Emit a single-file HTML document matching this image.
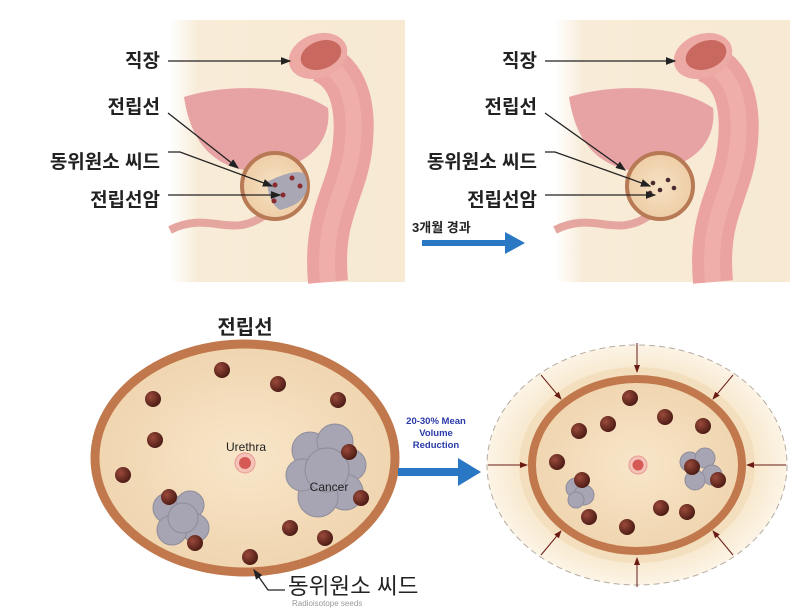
<!DOCTYPE html>
<html><head><meta charset="utf-8"><style>
html,body{margin:0;padding:0;background:#fff;}
svg{display:block;font-family:"Liberation Sans","Noto Sans CJK KR",sans-serif;}
</style></head><body>
<svg width="800" height="612" viewBox="0 0 800 612" xmlns="http://www.w3.org/2000/svg">
<defs>
<linearGradient id="bg" x1="0" x2="1"><stop offset="0" stop-color="#fff"/><stop offset="0.12" stop-color="#f8ecd8"/><stop offset="1" stop-color="#f7e9d2"/></linearGradient>
<linearGradient id="pink" x1="0" x2="1"><stop offset="0" stop-color="#e29a9a"/><stop offset="0.5" stop-color="#f2b2ae"/><stop offset="1" stop-color="#d98a88"/></linearGradient>
<radialGradient id="pro" cx="0.5" cy="0.5" r="0.6"><stop offset="0" stop-color="#f6e2c4"/><stop offset="1" stop-color="#ecc9a0"/></radialGradient>
<radialGradient id="seed" cx="0.35" cy="0.35" r="0.7"><stop offset="0" stop-color="#9a4a3a"/><stop offset="1" stop-color="#4a1a14"/></radialGradient>
<radialGradient id="big" cx="0.5" cy="0.5" r="0.55"><stop offset="0" stop-color="#f8e6c9"/><stop offset="1" stop-color="#efd3ad"/></radialGradient>
<radialGradient id="halo" cx="0.5" cy="0.5" r="0.5"><stop offset="0.7" stop-color="#f6e4c4"/><stop offset="1" stop-color="#fcf4e6"/></radialGradient>
<marker id="ah" markerWidth="8" markerHeight="8" refX="7" refY="4" orient="auto"><path d="M0,1 L8,4 L0,7 Z" fill="#222"/></marker>
<marker id="rh" markerWidth="8" markerHeight="8" refX="7" refY="4" orient="auto"><path d="M0,1 L8,4 L0,7 Z" fill="#6a1a14"/></marker>
<g id="anat">
<rect x="0" y="20" width="235" height="262" fill="url(#bg)"/>
<path d="M0,230 C40,210 60,240 95,215" stroke="#e6a6a0" stroke-width="8" fill="none"/>
<path d="M150,62 C178,72 188,105 182,150 C176,195 152,215 158,282" stroke="#eaa3a0" stroke-width="40" fill="none"/>
<path d="M150,62 C178,72 188,105 182,150 C176,195 152,215 158,282" stroke="#f2b6b0" stroke-width="16" fill="none" opacity="0.6"/>
<ellipse cx="148" cy="56" rx="30" ry="22" fill="#eda9a4" transform="rotate(-20 148 56)"/>
<ellipse cx="151" cy="55" rx="21" ry="14" fill="#c8685f" transform="rotate(-20 151 55)"/>
<path d="M14,97 C50,85 120,82 158,108 C162,140 140,168 90,172 C50,170 22,150 14,97 Z" fill="#e7a3a4"/>
<circle cx="105" cy="186" r="33" fill="url(#pro)" stroke="#b77a55" stroke-width="4"/>
</g>
</defs>

<!-- Top left -->
<use href="#anat" x="170" y="0"/>
<path d="M267,182 C280,175 300,168 305,175 C312,195 300,205 280,210 C272,205 268,195 267,182Z" fill="#a9a7b4"/>
<g fill="#8a2a30"><circle cx="275" cy="185" r="2.5"/><circle cx="292" cy="178" r="2.5"/><circle cx="300" cy="186" r="2.5"/><circle cx="283" cy="195" r="2.5"/><circle cx="274" cy="201" r="2.5"/></g>
<g font-size="19" font-weight="bold" fill="#222" text-anchor="end">
<text x="160" y="67">직장</text><text x="160" y="113">전립선</text><text x="160" y="168">동위원소 씨드</text><text x="160" y="206">전립선암</text></g>
<g stroke="#222" stroke-width="1.3" fill="none" marker-end="url(#ah)">
<line x1="168" y1="61" x2="290" y2="61"/><line x1="168" y1="113" x2="238" y2="168"/><path d="M168,152 L180,152 L272,186"/><line x1="168" y1="195" x2="280" y2="195"/></g>

<!-- Top right -->
<use href="#anat" x="555" y="0"/>
<g fill="#4a2a30"><circle cx="653" cy="183" r="2.3"/><circle cx="668" cy="180" r="2.3"/><circle cx="674" cy="188" r="2.3"/><circle cx="660" cy="190" r="2.3"/><circle cx="650" cy="193" r="2.3"/></g>
<g font-size="19" font-weight="bold" fill="#222" text-anchor="end">
<text x="537" y="67">직장</text><text x="537" y="113">전립선</text><text x="537" y="168">동위원소 씨드</text><text x="537" y="206">전립선암</text></g>
<g stroke="#222" stroke-width="1.3" fill="none" marker-end="url(#ah)">
<line x1="545" y1="61" x2="675" y2="61"/><line x1="545" y1="113" x2="625" y2="170"/><path d="M545,152 L555,152 L650,186"/><line x1="545" y1="195" x2="655" y2="195"/></g>
<text x="412" y="232" font-size="13" font-weight="bold" fill="#222">3개월 경과</text>
<path d="M422,240 L505,240 L505,232 L525,243 L505,254 L505,246 L422,246 Z" fill="#2a77c4"/>

<!-- Bottom left -->
<text x="245" y="334" font-size="20" font-weight="bold" fill="#222" text-anchor="middle">전립선</text>
<ellipse cx="245" cy="458" rx="150" ry="114" fill="url(#big)" stroke="#c0784c" stroke-width="9"/>
<g fill="#a7a5b3" stroke="#8e8c9a" stroke-width="1">
<circle cx="310" cy="450" r="18"/><circle cx="335" cy="442" r="18"/><circle cx="350" cy="465" r="16"/><circle cx="345" cy="492" r="18"/><circle cx="318" cy="497" r="20"/><circle cx="302" cy="475" r="16"/><circle cx="327" cy="470" r="22"/>
<circle cx="168" cy="508" r="15"/><circle cx="190" cy="505" r="14"/><circle cx="195" cy="528" r="14"/><circle cx="172" cy="530" r="15"/><circle cx="183" cy="518" r="15"/></g>
<text x="246" y="451" font-size="12" fill="#222" text-anchor="middle">Urethra</text>
<circle cx="245" cy="463" r="10" fill="#f4c2b8" stroke="#e89a90"/><circle cx="245" cy="463" r="6" fill="#d55a55"/>
<text x="329" y="491" font-size="12" fill="#222" text-anchor="middle">Cancer</text>
<g fill="url(#seed)">
<circle cx="222" cy="370" r="8"/><circle cx="278" cy="384" r="8"/><circle cx="153" cy="399" r="8"/><circle cx="338" cy="400" r="8"/><circle cx="155" cy="440" r="8"/><circle cx="123" cy="475" r="8"/><circle cx="349" cy="452" r="8"/><circle cx="169" cy="497" r="8"/><circle cx="361" cy="498" r="8"/><circle cx="195" cy="543" r="8"/><circle cx="290" cy="528" r="8"/><circle cx="325" cy="538" r="8"/><circle cx="250" cy="557" r="8"/></g>
<path d="M285,590 L268,590 L254,570" stroke="#222" stroke-width="1.3" fill="none" marker-end="url(#ah)"/>
<text x="288" y="594" font-size="22.5" fill="#222">동위원소 씨드</text>
<text x="292" y="606" font-size="8" fill="#999">Radioisotope seeds</text>

<!-- Arrow middle -->
<g font-size="9.5" font-weight="bold" fill="#2a3aa8" text-anchor="middle">
<text x="436" y="424">20-30% Mean</text><text x="436" y="436">Volume</text><text x="436" y="448">Reduction</text></g>
<path d="M398,468 L458,468 L458,458 L481,472 L458,486 L458,476 L398,476 Z" fill="#2a77c4"/>

<!-- Bottom right -->
<ellipse cx="637" cy="465" rx="150" ry="120" fill="url(#halo)" stroke="#b5aca0" stroke-width="1" stroke-dasharray="6,4"/>
<ellipse cx="637" cy="465" rx="118" ry="98" fill="#f3dfbd"/>
<ellipse cx="637" cy="465" rx="105" ry="86" fill="url(#big)" stroke="#c0784c" stroke-width="8"/>
<g stroke="#6a1a14" stroke-width="1" marker-end="url(#rh)">
<line x1="637" y1="343" x2="637" y2="372"/><line x1="637" y1="587" x2="637" y2="558"/>
<line x1="488" y1="465" x2="527" y2="465"/><line x1="786" y1="465" x2="747" y2="465"/>
<line x1="541" y1="375" x2="561" y2="399"/><line x1="733" y1="375" x2="713" y2="399"/>
<line x1="541" y1="555" x2="561" y2="531"/><line x1="733" y1="555" x2="713" y2="531"/></g>
<g fill="#a7a5b3" stroke="#8e8c9a" stroke-width="1">
<circle cx="690" cy="462" r="10"/><circle cx="705" cy="458" r="10"/><circle cx="712" cy="475" r="10"/><circle cx="695" cy="480" r="10"/>
<circle cx="576" cy="488" r="10"/><circle cx="584" cy="495" r="10"/><circle cx="576" cy="500" r="8"/></g>
<circle cx="638" cy="465" r="9" fill="#f4c2b8" stroke="#e89a90"/><circle cx="638" cy="465" r="5.5" fill="#d55a55"/>
<g fill="url(#seed)">
<circle cx="630" cy="398" r="8"/><circle cx="579" cy="431" r="8"/><circle cx="608" cy="424" r="8"/><circle cx="665" cy="417" r="8"/><circle cx="703" cy="426" r="8"/><circle cx="557" cy="462" r="8"/><circle cx="582" cy="480" r="8"/><circle cx="692" cy="467" r="8"/><circle cx="718" cy="480" r="8"/><circle cx="589" cy="517" r="8"/><circle cx="627" cy="527" r="8"/><circle cx="661" cy="508" r="8"/><circle cx="687" cy="512" r="8"/></g>
</svg>
</body></html>
